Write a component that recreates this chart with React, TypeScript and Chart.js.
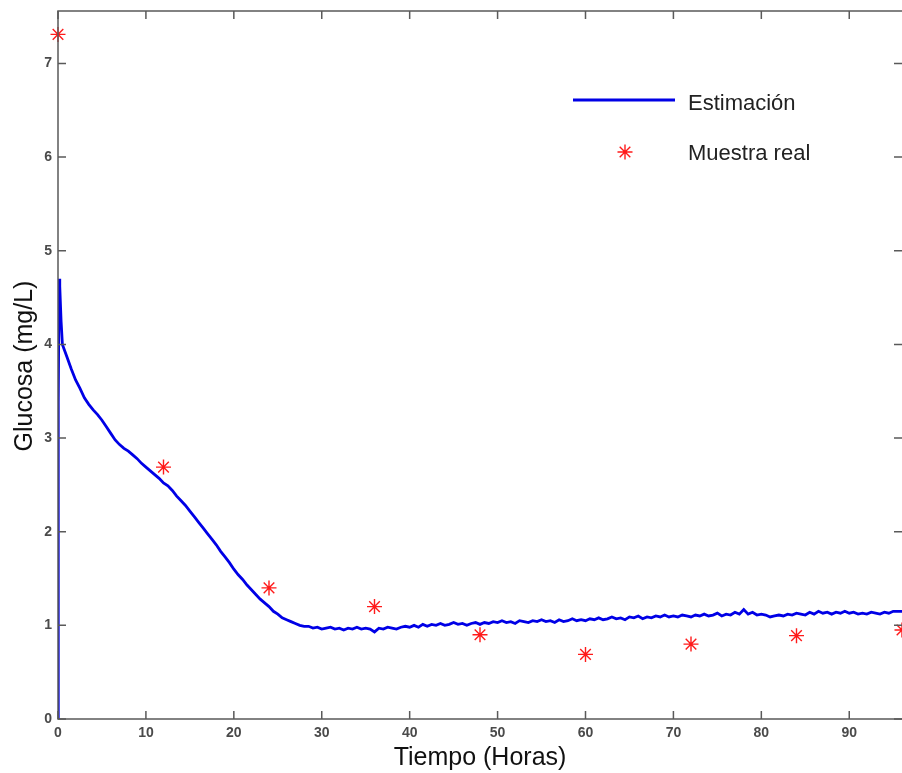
import React, { useEffect, useRef } from "react";
import { Chart, registerables } from "chart.js";

Chart.register(...registerables);

// Real samples (hours, mg/L)
const sampleTimes = [0, 12, 24, 36, 48, 60, 72, 84, 96];
const sampleValues = [7.31, 2.69, 1.4, 1.2, 0.9, 0.69, 0.8, 0.89, 0.95];

// Initial transient of the estimate
const spikeTimes = [0, 0.03, 0.12, 0.2, 0.35];
const spikeValues = [0, 3.38, 4.7, 4.62, 4.25];

// Estimate, every half hour from 0.5 h to 96 h
const estStart = 0.5;
const estStep = 0.5;
const estValues = [
  4.0, 3.87, 3.74, 3.62, 3.53, 3.43, 3.36, 3.3, 3.25, 3.19,
  3.12, 3.05, 2.98, 2.93, 2.89, 2.86, 2.82, 2.78, 2.73, 2.69,
  2.65, 2.61, 2.57, 2.52, 2.49, 2.44, 2.38, 2.33, 2.28, 2.22,
  2.16, 2.1, 2.04, 1.98, 1.92, 1.86, 1.79, 1.73, 1.67, 1.6,
  1.54, 1.49, 1.43, 1.38, 1.33, 1.28, 1.24, 1.2, 1.15, 1.12,
  1.08, 1.06, 1.04, 1.02, 1.0, 0.99, 0.99, 0.97, 0.98, 0.96,
  0.97, 0.98, 0.96, 0.97, 0.95, 0.97, 0.96, 0.98, 0.96, 0.97,
  0.96, 0.93, 0.97, 0.96, 0.98, 0.97, 0.96, 0.98, 0.99, 0.98,
  1.0, 0.98, 1.01, 0.99, 1.01, 1.0, 1.02, 1.0, 1.01, 1.03,
  1.01, 1.02, 1.0, 1.02, 1.03, 1.01, 1.03, 1.02, 1.04, 1.03,
  1.05, 1.03, 1.04, 1.02, 1.05, 1.04, 1.03, 1.05, 1.04, 1.06,
  1.04, 1.05, 1.03, 1.06, 1.04, 1.05, 1.07, 1.05, 1.06, 1.05,
  1.07, 1.06, 1.08, 1.06, 1.07, 1.09, 1.07, 1.08, 1.06, 1.09,
  1.08, 1.1, 1.07, 1.09, 1.08, 1.1, 1.09, 1.11, 1.09, 1.1,
  1.09, 1.11, 1.1, 1.09, 1.11, 1.1, 1.12, 1.1, 1.11, 1.13,
  1.1, 1.12, 1.11, 1.14, 1.12, 1.17, 1.12, 1.14, 1.11, 1.12,
  1.11, 1.09, 1.1, 1.11, 1.1, 1.12, 1.11, 1.13, 1.12, 1.11,
  1.14, 1.12, 1.15, 1.13, 1.14, 1.12, 1.14, 1.13, 1.15, 1.13,
  1.14, 1.12, 1.13, 1.12, 1.14, 1.13, 1.12, 1.14, 1.13, 1.15,
  1.15, 1.15,
];

const xTicks = [0, 10, 20, 30, 40, 50, 60, 70, 80, 90];
const yTicks = [0, 1, 2, 3, 4, 5, 6, 7];
const xMin = 0;
const xMax = 96;
const yMin = 0;
const yMax = 7.56;

const xTitle = "Tiempo (Horas)";
const yTitle = "Glucosa (mg/L)";
const lineLabel = "Estimación";
const pointLabel = "Muestra real";

const LINE_COLOR = "#0000e6";
const POINT_COLOR = "#ff1a1a";
const AXIS_COLOR = "#5a5a5a";
const TICK_COLOR = "#4a4a4a";
const FONT = "'Liberation Sans', Arial, sans-serif";

function drawAsterisk(ctx: CanvasRenderingContext2D, x: number, y: number, r: number) {
  ctx.save();
  ctx.strokeStyle = POINT_COLOR;
  ctx.lineWidth = 1.4;
  ctx.beginPath();
  for (let k = 0; k < 4; k++) {
    const a = (k * Math.PI) / 4;
    ctx.moveTo(x - r * Math.cos(a), y - r * Math.sin(a));
    ctx.lineTo(x + r * Math.cos(a), y + r * Math.sin(a));
  }
  ctx.stroke();
  ctx.restore();
}

const decorPlugin = {
  id: "decor",
  afterDraw(chart: any) {
    const ctx: CanvasRenderingContext2D = chart.ctx;
    const { left, right, top, bottom } = chart.chartArea;
    const xs = chart.scales.x;
    const ys = chart.scales.y;
    ctx.save();
    // box (right edge falls at the canvas border)
    ctx.strokeStyle = AXIS_COLOR;
    ctx.lineWidth = 1.5;
    ctx.beginPath();
    ctx.moveTo(right, top);
    ctx.lineTo(left, top);
    ctx.lineTo(left, bottom);
    ctx.lineTo(right, bottom);
    ctx.stroke();
    // inward ticks
    const tl = 8;
    ctx.beginPath();
    xTicks.forEach((t) => {
      const px = xs.getPixelForValue(t);
      ctx.moveTo(px, bottom);
      ctx.lineTo(px, bottom - tl);
      ctx.moveTo(px, top);
      ctx.lineTo(px, top + tl);
    });
    yTicks.forEach((t) => {
      const py = ys.getPixelForValue(t);
      ctx.moveTo(left, py);
      ctx.lineTo(left + tl, py);
      ctx.moveTo(right, py);
      ctx.lineTo(right - tl, py);
    });
    ctx.stroke();

    // axis titles
    ctx.fillStyle = "#111";
    ctx.font = `25px ${FONT}`;
    ctx.textAlign = "center";
    ctx.textBaseline = "alphabetic";
    ctx.fillText(xTitle, 480, 765);
    ctx.save();
    ctx.translate(32, 366);
    ctx.rotate(-Math.PI / 2);
    ctx.fillText(yTitle, 0, 0);
    ctx.restore();

    // legend
    ctx.strokeStyle = LINE_COLOR;
    ctx.lineWidth = 2.8;
    ctx.beginPath();
    ctx.moveTo(573, 100);
    ctx.lineTo(675, 100);
    ctx.stroke();
    drawAsterisk(ctx, 625, 152, 7.5);
    ctx.fillStyle = "#222";
    ctx.font = `22px ${FONT}`;
    ctx.textAlign = "left";
    ctx.fillText(lineLabel, 688, 110);
    ctx.fillText(pointLabel, 688, 160);
    ctx.restore();
  },
};

export default function App() {
  const canvasRef = useRef<HTMLCanvasElement | null>(null);

  useEffect(() => {
    const canvas = canvasRef.current;
    if (!canvas) return;

    const lineData = [
      ...spikeTimes.map((t, i) => ({ x: t, y: spikeValues[i] })),
      ...estValues.map((v, i) => ({ x: estStart + i * estStep, y: v })),
    ];
    const pointData = sampleTimes.map((t, i) => ({ x: t, y: sampleValues[i] }));

    const chart = new Chart(canvas, {
      type: "scatter",
      data: {
        datasets: [
          {
            label: pointLabel,
            data: pointData,
            order: 0,
            showLine: false,
            pointStyle: "star",
            pointRadius: 7.5,
            pointBorderWidth: 1.4,
            borderColor: POINT_COLOR,
            backgroundColor: POINT_COLOR,
            clip: false,
          } as any,
          {
            label: lineLabel,
            data: lineData,
            order: 1,
            showLine: true,
            pointRadius: 0,
            borderColor: LINE_COLOR,
            borderWidth: 2.8,
            tension: 0,
          } as any,
        ],
      },
      options: {
        animation: false,
        responsive: false,
        events: [],
        layout: { autoPadding: false, padding: { top: 11, right: 0, left: 0, bottom: 0 } },
        plugins: {
          legend: { display: false },
          tooltip: { enabled: false },
          title: { display: false },
        },
        scales: {
          x: {
            type: "linear",
            min: xMin,
            max: xMax,
            grid: { display: false, drawTicks: false },
            border: { display: false },
            afterBuildTicks: (s: any) => {
              s.ticks = xTicks.map((v) => ({ value: v }));
            },
            afterFit: (s: any) => {
              s.height = 54;
              s.paddingLeft = 0;
              s.paddingRight = 0;
            },
            ticks: {
              color: TICK_COLOR,
              font: { family: FONT, size: 14, weight: "bold" },
              padding: 6,
              maxRotation: 0,
              autoSkip: false,
            },
          },
          y: {
            type: "linear",
            min: yMin,
            max: yMax,
            grid: { display: false, drawTicks: false },
            border: { display: false },
            afterBuildTicks: (s: any) => {
              s.ticks = yTicks.map((v) => ({ value: v }));
            },
            afterFit: (s: any) => {
              s.width = 58;
              s.paddingTop = 0;
              s.paddingBottom = 0;
            },
            ticks: {
              color: TICK_COLOR,
              font: { family: FONT, size: 14, weight: "bold" },
              padding: 6,
              autoSkip: false,
            },
          },
        },
      } as any,
      plugins: [decorPlugin],
    });

    return () => chart.destroy();
  }, []);

  return (
    <div style={{ position: "absolute", left: 0, top: 0, width: 902, height: 773, background: "#fff" }}>
      <canvas ref={canvasRef} width={902} height={773} style={{ display: "block" }} />
    </div>
  );
}
